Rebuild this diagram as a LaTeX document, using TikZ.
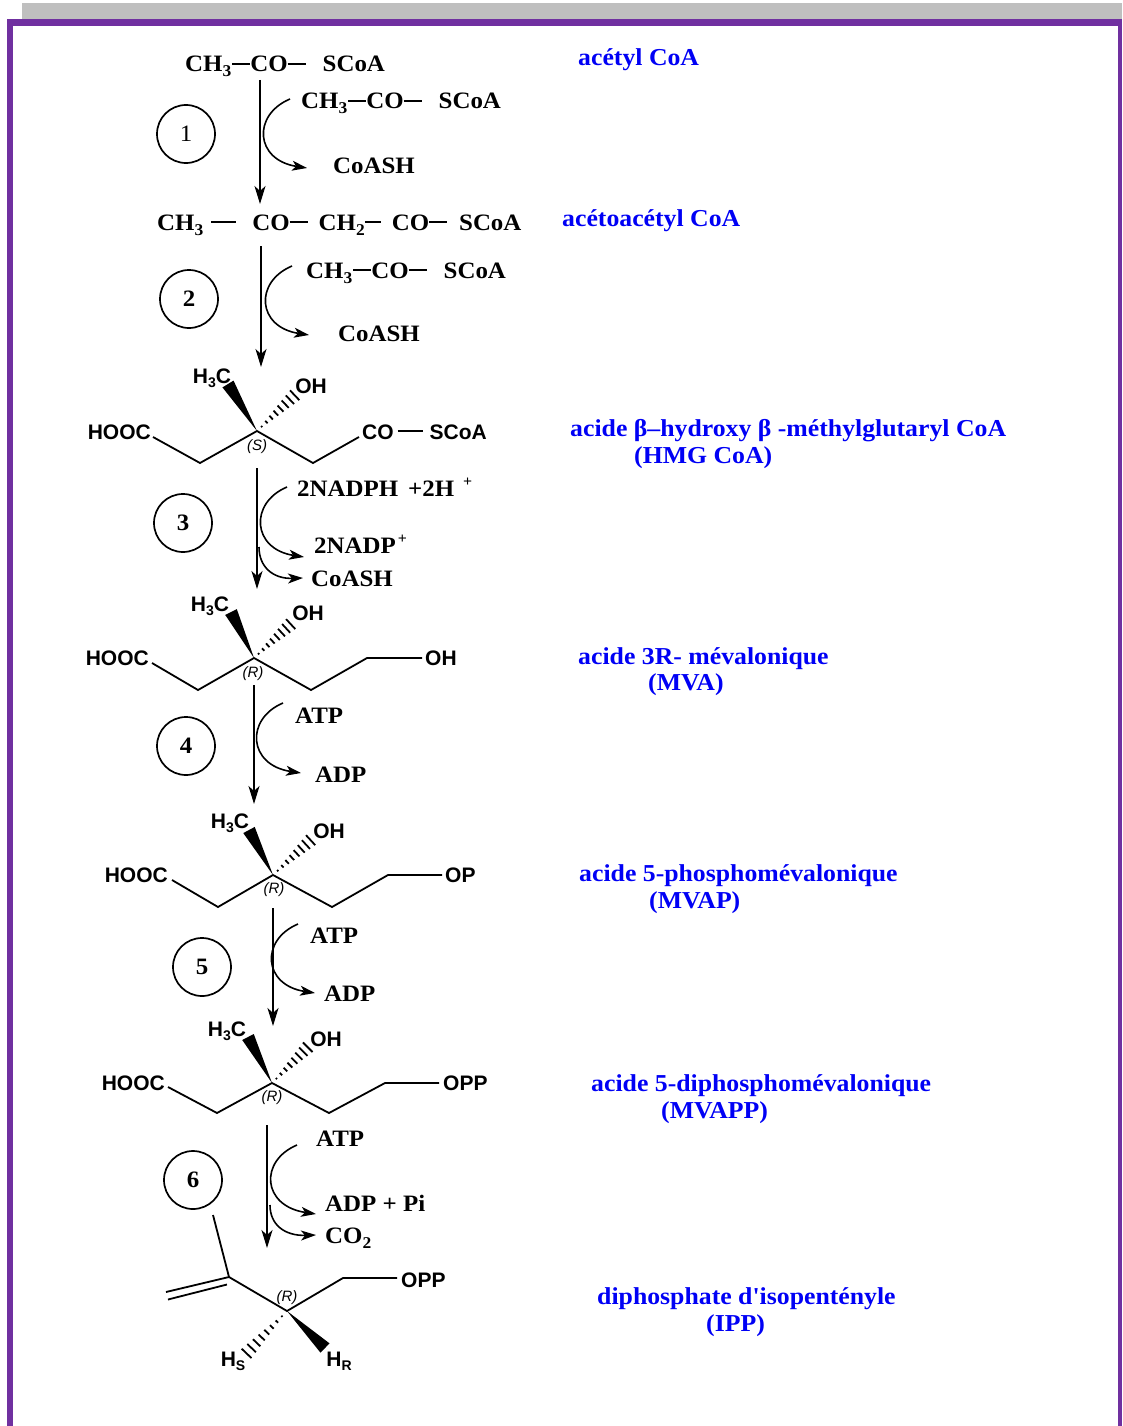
\documentclass[tikz,border=0pt]{standalone}
\usepackage{fontspec}
\setmainfont{Liberation Serif}[FakeStretch=1.06]
\newfontfamily\lbff{Liberation Serif}[FakeStretch=1.06]
\newfontfamily\arialf{Liberation Sans}
\usetikzlibrary{arrows.meta,calc}
\definecolor{purp}{RGB}{112,48,160}
\definecolor{barg}{RGB}{191,191,191}
\definecolor{lblue}{RGB}{0,0,245}
\newcommand\tbf{\fontsize{23.5}{28}\selectfont\bfseries}
\newcommand\trg{\fontsize{23.5}{28}\selectfont}
\newcommand\lbf{\lbff\fontsize{24.3}{28}\selectfont\bfseries}
\newcommand\abf{\arialf\fontsize{21}{24}\selectfont\bfseries}
\newcommand\ait{\arialf\fontsize{15}{17}\selectfont\itshape}
\newcommand\sbs[1]{\raisebox{-5pt}{\fontsize{16.5}{16.5}\selectfont #1}}
\newcommand\asb[1]{\raisebox{-4pt}{\fontsize{14}{14}\selectfont #1}}
\newcommand\spp[1]{\raisebox{10pt}{\fontsize{15}{15}\selectfont #1}}
\newcommand\bd[1]{\rule[7.4pt]{#1}{1.8pt}}
\newcommand\abd[1]{\rule[7.0pt]{#1}{1.8pt}}
\newcommand\wedgeb[2]{\fill ($(#2)!6.5pt!90:(#1)$) -- (#1) -- ($(#2)!6.5pt!-90:(#1)$) -- cycle;}
\newcommand\hashb[2]{\foreach \k in {1,...,8}{%
  \path ($(#1)!\k/8.5!(#2)$) coordinate (hbp);
  \draw[line width=1.8pt] ($(hbp)!\k*0.85pt!90:(#2)$) -- ($(hbp)!\k*0.85pt!-90:(#2)$);}}
\tikzset{
  tb/.style={font=\tbf, inner sep=0pt, anchor=base west},
  lbl/.style={font=\lbf, text=lblue, inner sep=0pt, anchor=base west},
  ar/.style={font=\abf, inner sep=0pt},
  ster/.style={font=\ait, inner sep=0pt},
  stepnum/.style={circle, draw, line width=1.7pt, minimum size=58pt, inner sep=0pt, font=\tbf},
  bond/.style={line width=1.8pt, line join=miter},
  mainarr/.style={line width=1.8pt, -{Stealth[length=18pt,width=11pt,inset=5pt]}},
  sidearr/.style={line width=1.6pt, -{Stealth[length=15pt,width=10pt,inset=4pt]}}
}
\begin{document}
\begin{tikzpicture}[x=1pt,y=-1pt]
\useasboundingbox (0,0) rectangle (1122,1426);
% frame
\fill[barg] (22,3) rectangle (1122,19.5);
\fill[purp] (7,19.5) rectangle (1122,26);
\fill[purp] (7,19.5) rectangle (13,1426);
\fill[purp] (1118,19.5) rectangle (1122,1426);

% ---------- step 1 ----------
\node[tb] (acA) at (185,72) {CH\sbs{3}\hspace{1pt}\bd{18pt}CO\bd{18pt}\hspace{17pt}SCoA};
\node[tb] (acB) at (301,109) {CH\sbs{3}\hspace{1pt}\bd{18pt}CO\bd{18pt}\hspace{17pt}SCoA};
\node[tb] (csh1) at (333,173) {CoASH};
\node[stepnum, font=\trg] (s1) at (186,134) {1};
\coordinate (a1s) at (260,80); \coordinate (a1e) at (260,204);
\draw[mainarr] (a1s) -- (a1e);
\coordinate (c1s) at (290,99); \coordinate (c1e) at (307,168);
\draw[sidearr] (c1s) .. controls (252,115) and (255,160) .. (c1e);

% ---------- step 2 ----------
\node[tb] (aca) at (157,230) {CH\sbs{3}\hspace{8pt}\bd{25pt}\hspace{16pt}CO\bd{18pt}\hspace{11pt}CH\sbs{2}\bd{16pt}\hspace{11pt}CO\bd{18pt}\hspace{12pt}SCoA};
\node[tb] (acC) at (306,278) {CH\sbs{3}\hspace{1pt}\bd{18pt}CO\bd{18pt}\hspace{17pt}SCoA};
\node[tb] (csh2) at (338,341) {CoASH};
\node[stepnum] (s2) at (189,299) {2};
\coordinate (a2s) at (261,246); \coordinate (a2e) at (261,367);
\draw[mainarr] (a2s) -- (a2e);
\coordinate (c2s) at (292,266); \coordinate (c2e) at (309,335);
\draw[sidearr] (c2s) .. controls (254,282) and (257,327) .. (c2e);

% ---------- HMG CoA ----------
\coordinate (h0) at (257,431);
\node[ar, anchor=base east] (hmgL) at (151,439) {HOOC};
\node[ar, anchor=base] (hmgMe) at (212,383) {H\asb{3}C};
\node[ar, anchor=base] (hmgOH) at (311,393) {OH};
\node[ar, anchor=base west] (hmgR) at (362,439) {CO\hspace{4pt}\abd{25pt}\hspace{7pt}SCoA};
\node[ster] (hmgS) at (257,447) {(S)};
\draw[bond] (153,437) -- (200,463) -- (h0) -- (313,463) -- (359,437);
\coordinate (hmgW) at (228,384); \coordinate (hmgH) at (297,393);
\wedgeb{h0}{hmgW}
\hashb{h0}{hmgH}

% ---------- step 3 ----------
\node[stepnum] (s3) at (183,523) {3};
\node[tb] (nadph) at (297,496) {2NADPH\hspace{10pt}+2H\hspace{9pt}\spp{+}};
\node[tb] (nadp) at (314,553) {2NADP\hspace{2pt}\spp{+}};
\node[tb] (csh3) at (311,586) {CoASH};
\coordinate (a3s) at (257,468); \coordinate (a3e) at (257,589);
\draw[mainarr] (a3s) -- (a3e);
\coordinate (c3s) at (287,487); \coordinate (c3e) at (304,557);
\draw[sidearr] (c3s) .. controls (249,503) and (252,549) .. (c3e);
\coordinate (c3bs) at (259,547); \coordinate (c3be) at (303,578);
\draw[sidearr] (c3bs) .. controls (259,567) and (273,579) .. (c3be);

% ---------- MVA ----------
\coordinate (m0) at (254,658);
\node[ar, anchor=base east] (mvaL) at (149,665.5) {HOOC};
\node[ar, anchor=base] (mvaMe) at (210,611) {H\asb{3}C};
\node[ar, anchor=base] (mvaOH) at (308,620) {OH};
\node[ar, anchor=base west] (mvaR) at (425,665.5) {OH};
\node[ster] (mvaS) at (253,674) {(R)};
\draw[bond] (152,663) -- (198,690) -- (m0) -- (311,690) -- (367,658) -- (422,658);
\coordinate (mvaW) at (231,612); \coordinate (mvaH) at (293,622);
\wedgeb{m0}{mvaW}
\hashb{m0}{mvaH}

% ---------- step 4 ----------
\node[stepnum] (s4) at (186,746) {4};
\node[tb] (atp4) at (295,723) {ATP};
\node[tb] (adp4) at (315,782) {ADP};
\coordinate (a4s) at (254,685); \coordinate (a4e) at (254,804);
\draw[mainarr] (a4s) -- (a4e);
\coordinate (c4s) at (283,703); \coordinate (c4e) at (301,773);
\draw[sidearr] (c4s) .. controls (245,719) and (248,765) .. (c4e);

% ---------- MVAP ----------
\coordinate (p0) at (273,875);
\node[ar, anchor=base east] (mvapL) at (168,882.5) {HOOC};
\node[ar, anchor=base] (mvapMe) at (230,828) {H\asb{3}C};
\node[ar, anchor=base] (mvapOH) at (329,838) {OH};
\node[ar, anchor=base west] (mvapR) at (445,882.5) {OP};
\node[ster] (mvapS) at (274,890) {(R)};
\draw[bond] (172,880) -- (218,907) -- (p0) -- (332,907) -- (388,875) -- (442,875);
\coordinate (mvapW) at (249,830); \coordinate (mvapH) at (313,838);
\wedgeb{p0}{mvapW}
\hashb{p0}{mvapH}

% ---------- step 5 ----------
\node[stepnum] (s5) at (202,967) {5};
\node[tb] (atp5) at (310,943) {ATP};
\node[tb] (adp5) at (324,1001) {ADP};
\coordinate (a5s) at (273,908); \coordinate (a5e) at (273,1026);
\draw[mainarr] (a5s) -- (a5e);
\coordinate (c5s) at (298,924); \coordinate (c5e) at (315,993);
\draw[sidearr] (c5s) .. controls (260,940) and (263,985) .. (c5e);

% ---------- MVAPP ----------
\coordinate (q0) at (272,1083);
\node[ar, anchor=base east] (mvappL) at (165,1090.5) {HOOC};
\node[ar, anchor=base] (mvappMe) at (227,1036) {H\asb{3}C};
\node[ar, anchor=base] (mvappOH) at (326,1046) {OH};
\node[ar, anchor=base west] (mvappR) at (443,1090.5) {OPP};
\node[ster] (mvappS) at (272,1098) {(R)};
\draw[bond] (168,1087) -- (217,1113) -- (q0) -- (329,1113) -- (385,1083) -- (439,1083);
\coordinate (mvappW) at (248,1037); \coordinate (mvappH) at (310,1045);
\wedgeb{q0}{mvappW}
\hashb{q0}{mvappH}

% ---------- step 6 ----------
\node[stepnum] (s6) at (193,1180) {6};
\node[tb] (atp6) at (316,1146) {ATP};
\node[tb] (adp6) at (325,1211) {ADP + Pi};
\node[tb] (co2) at (325,1243) {CO\sbs{2}};
\coordinate (a6s) at (267,1125); \coordinate (a6e) at (267,1248);
\draw[mainarr] (a6s) -- (a6e);
\coordinate (c6s) at (297,1145); \coordinate (c6e) at (316,1214);
\draw[sidearr] (c6s) .. controls (259,1161) and (262,1206) .. (c6e);
\coordinate (c6bs) at (270,1205); \coordinate (c6be) at (316,1235);
\draw[sidearr] (c6bs) .. controls (270,1225) and (285,1236) .. (c6be);

% ---------- IPP ----------
\coordinate (i0) at (287,1311);
\coordinate (i2) at (229,1277);
\node[ar, anchor=base west] (ippR) at (401,1287.5) {OPP};
\node[ar, anchor=base] (ippHS) at (233,1366) {H\asb{S}};
\node[ar, anchor=base] (ippHR) at (339,1366) {H\asb{R}};
\node[ster] (ippS) at (287,1298) {(R)};
\draw[bond] (213,1215) -- (i2);
\draw[bond] (i2) -- (166,1292);
\draw[bond] (227,1284.5) -- (168,1299.5);
\draw[bond] (i2) -- (i0) -- (343,1278) -- (397,1278);
\coordinate (ippW) at (325,1348); \coordinate (ippH) at (244,1356);
\wedgeb{i0}{ippW}
\hashb{i0}{ippH}

% ---------- labels ----------
\node[lbl] (l1) at (578,66) {acétyl CoA};
\node[lbl] (l2) at (562,226) {acétoacétyl CoA};
\node[lbl] (l3) at (570,436) {acide β–hydroxy β -méthylglutaryl CoA};
\node[lbl] (l3b) at (634,463) {(HMG CoA)};
\node[lbl] (l4) at (578,664) {acide 3R- mévalonique};
\node[lbl] (l4b) at (648,690) {(MVA)};
\node[lbl] (l5) at (579,881) {acide 5-phosphomévalonique};
\node[lbl] (l5b) at (649,908) {(MVAP)};
\node[lbl] (l6) at (591,1091) {acide 5-diphosphomévalonique};
\node[lbl] (l6b) at (661,1118) {(MVAPP)};
\node[lbl] (l7) at (597,1304) {diphosphate d'isopentényle};
\node[lbl] (l7b) at (706,1331) {(IPP)};
\end{tikzpicture}
\end{document}
